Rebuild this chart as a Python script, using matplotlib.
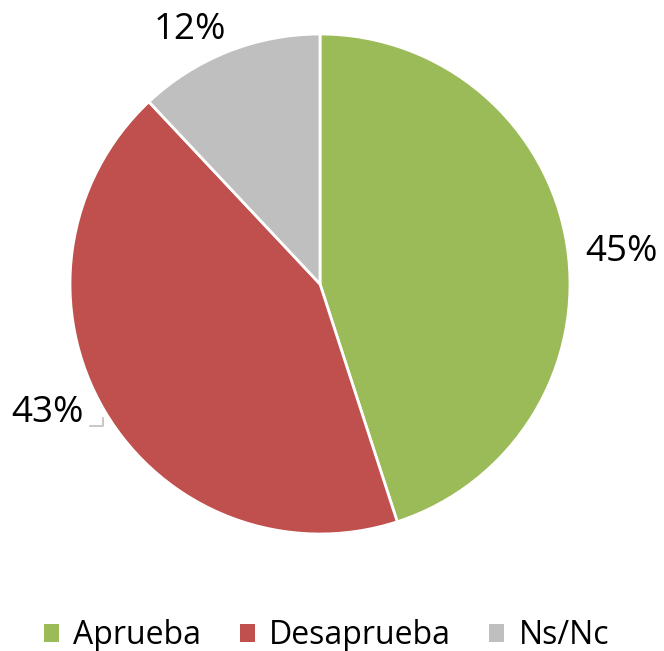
import matplotlib
matplotlib.use('Agg')
import matplotlib.pyplot as plt
from matplotlib.patches import Patch

plt.rcParams['font.family'] = ['Open Sans', 'DejaVu Sans']

labels = ['Aprueba', 'Desaprueba', 'Ns/Nc']
values = [45, 43, 12]
colors = ['#9BBB59', '#C0504D', '#BFBFBF']

fig = plt.figure(figsize=(6.64, 6.51), dpi=100)
ax = fig.add_axes([70/664, 117/651, 500/664, 500/651])

ax.pie(values, colors=colors, startangle=90, counterclock=False, radius=1,
       wedgeprops=dict(edgecolor='white', linewidth=2))
ax.set_xlim(-1, 1)
ax.set_ylim(-1, 1)
ax.set_aspect('equal')
ax.axis('off')

# label positions (data coords, pie radius = 1)
label_pos = [(1.208, 0.128), (-1.088, -0.516), (-0.52, 1.016)]
for v, (x, y) in zip(values, label_pos):
    ax.text(x, y, f'{v}%', ha='center', va='center', fontsize=26.5,
            color='black', clip_on=False)

# leader line for the 43% label
ax.plot([-0.92, -0.868, -0.868], [-0.568, -0.568, -0.536], color='#BFBFBF',
        lw=1.2, clip_on=False)

handles = [Patch(facecolor=c, edgecolor='none') for c in colors]
fig.legend(handles, labels, loc='center', bbox_to_anchor=(0.492, 1 - 636/651),
           ncol=3, frameon=False, fontsize=23, handlelength=0.47,
           handleheight=0.47, handletextpad=0.45, columnspacing=1.2)

fig.savefig('out.png', dpi=100)
